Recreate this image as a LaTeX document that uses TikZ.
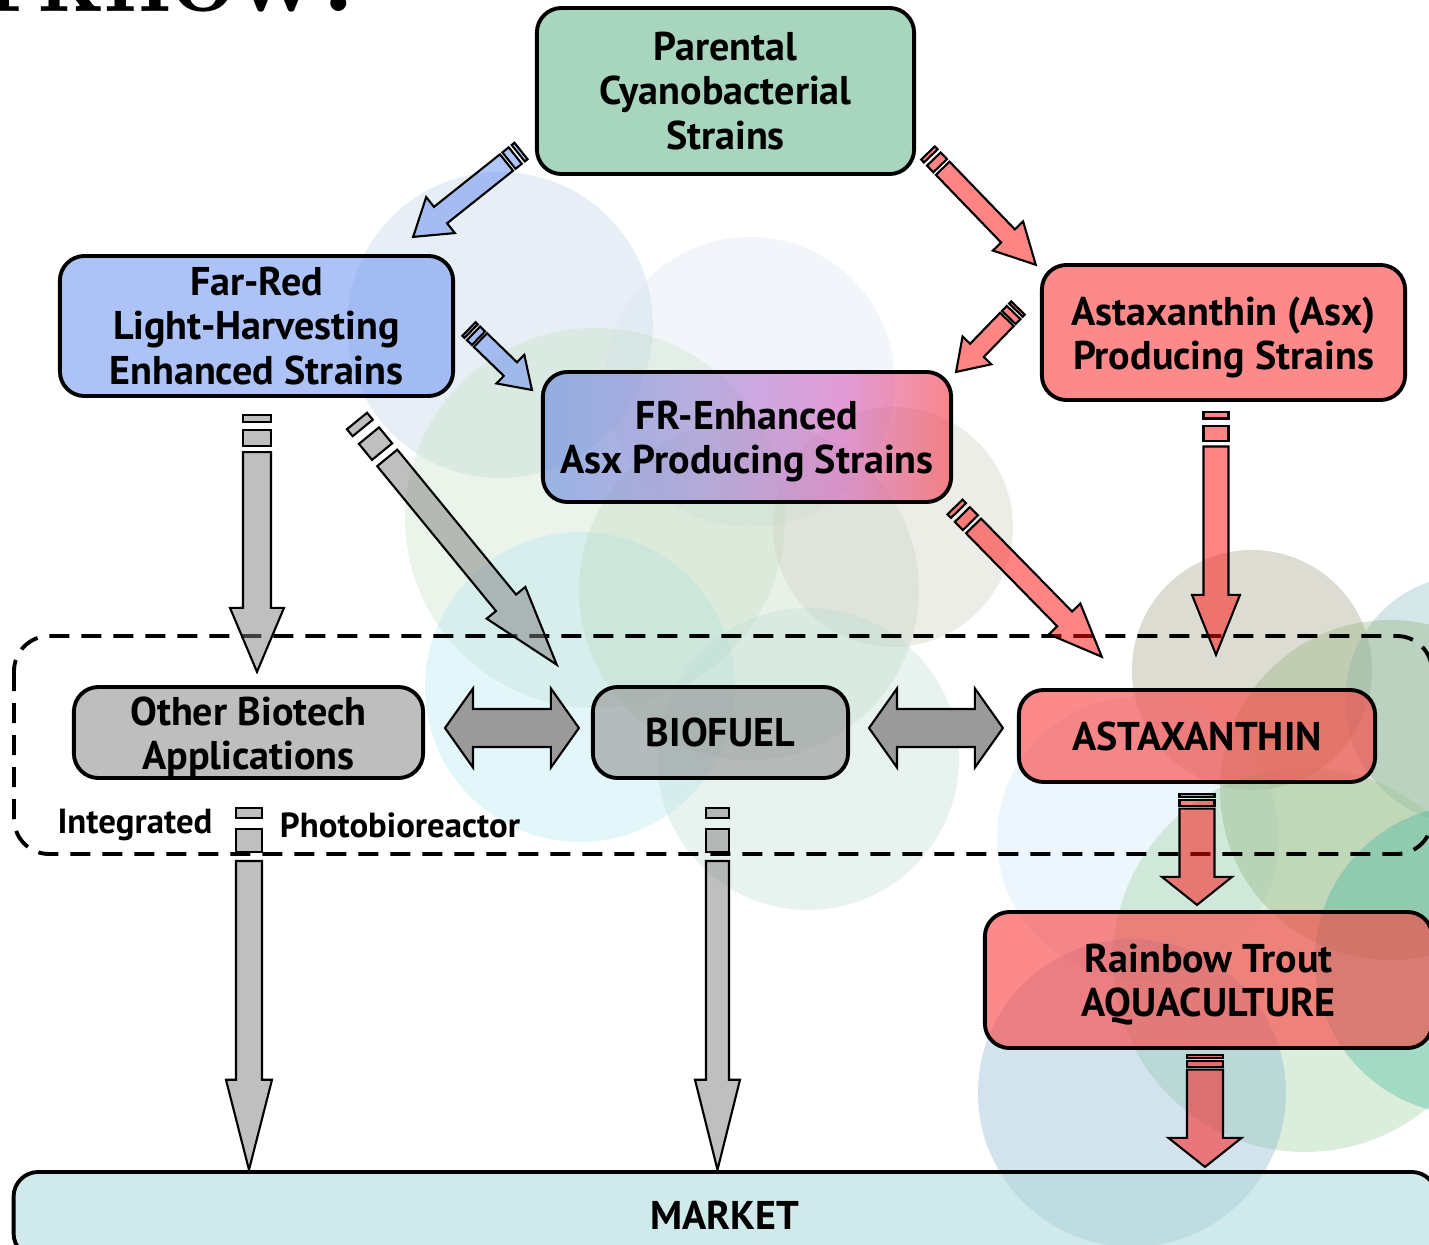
\documentclass[tikz,border=0pt]{standalone}
\usepackage{fontspec}
\setmainfont{PT Sans}
\newfontfamily\titlefont{Latin Modern Roman}
\usetikzlibrary{calc,positioning}

\definecolor{cgreen}{RGB}{110,185,147}
\definecolor{cblue}{RGB}{118,153,240}
\definecolor{cred}{RGB}{252,60,60}
\definecolor{cgray}{RGB}{147,147,147}
\definecolor{cmarket}{RGB}{177,218,220}
\definecolor{gleft}{RGB}{96,136,223}
\definecolor{glav}{RGB}{160,130,215}
\definecolor{gmid}{RGB}{217,95,190}
\definecolor{gright}{RGB}{242,55,63}
\definecolor{ablue}{RGB}{100,140,240}
\definecolor{ared}{RGB}{255,10,10}
\definecolor{agray}{RGB}{127,127,127}
\definecolor{adbl}{RGB}{154,154,154}
% background circles
\definecolor{bA}{RGB}{186,206,226}
\definecolor{bB}{RGB}{218,229,244}
\definecolor{bC}{RGB}{198,224,195}
\definecolor{bD}{RGB}{175,232,241}
\definecolor{bE}{RGB}{190,215,190}
\definecolor{bF}{RGB}{204,204,190}
\definecolor{bG}{RGB}{189,220,212}
\definecolor{bH}{RGB}{155,155,129}
\definecolor{bI}{RGB}{134,183,189}
\definecolor{bJ}{RGB}{204,229,246}
\definecolor{bK}{RGB}{152,206,152}
\definecolor{bL}{RGB}{143,174,120}
\definecolor{bM}{RGB}{60,180,160}
\definecolor{bN}{RGB}{126,175,206}

\pgfdeclarehorizontalshading{frgrad}{100bp}{color(0bp)=(gleft); color(25bp)=(gleft);
  color(45bp)=(glav); color(62bp)=(gmid); color(75bp)=(gright); color(100bp)=(gright)}

% block arrow with two stripes at the tail: tail, tip, half width, head half width, head length, stripe size, colour
\newcommand{\striparrow}[7]{%
  \path let \p1=($(#2)-(#1)$) in \pgfextra{%
    \pgfmathsetmacro\tmpang{atan2(\y1,\x1)}\global\let\arrang\tmpang
    \pgfmathsetmacro\tmplen{veclen(\x1,\y1)/0.28453}\global\let\arrlen\tmplen};
  \pgfmathsetmacro\sa{0.5*#6}%
  \pgfmathsetmacro\sb{1.05*#6}%
  \pgfmathsetmacro\sc{2.2*#6}%
  \pgfmathsetmacro\sd{2.65*#6}%
  \pgfmathsetmacro\he{\arrlen-#5}%
  \begin{scope}[shift={(#1)}, rotate=\arrang, x=0.01cm, y=0.01cm]
    \draw[blk, fill=#7] (0,-#3) rectangle (\sa,#3);
    \draw[blk, fill=#7] (\sb,-#3) rectangle (\sc,#3);
    \draw[blk, fill=#7] (\sd,-#3) -- (\he,-#3) -- (\he,-#4) -- (\arrlen,0)
      -- (\he,#4) -- (\he,#3) -- (\sd,#3) -- cycle;
  \end{scope}}

% double headed block arrow: left tip, right tip, half width, head half width, head length
\newcommand{\dblarrow}[5]{%
  \path let \p1=($(#2)-(#1)$) in \pgfextra{%
    \pgfmathsetmacro\tmplen{veclen(\x1,\y1)/0.28453}\global\let\arrlen\tmplen};
  \pgfmathsetmacro\he{\arrlen-#5}%
  \begin{scope}[shift={(#1)}, x=0.01cm, y=0.01cm]
    \draw[blk, fill=adbl, fill opacity=1] (0,0) -- (#5,-#4) -- (#5,-#3) -- (\he,-#3)
      -- (\he,-#4) -- (\arrlen,0) -- (\he,#4) -- (\he,#3) -- (#5,#3) -- (#5,#4) -- cycle;
  \end{scope}}

\newcommand{\up}{\rule{0pt}{10.8pt}}

\begin{document}
\begin{tikzpicture}[x=0.01cm, y=-0.01cm]
\tikzstyle{box}=[draw, line width=1.1pt, rounded corners=7pt, fill opacity=.6, text opacity=1,
  align=center, font=\fontsize{11.4}{12.6}\selectfont\bfseries, inner sep=0pt]
\tikzstyle{blk}=[draw=black, line width=.6pt, fill opacity=.5, line join=miter]
\tikzstyle{lbl}=[font=\fontsize{9.9}{11}\selectfont\bfseries, inner sep=0pt]

\useasboundingbox (0,0) rectangle (1429,1245);
\clip (0,0) rectangle (1429,1245);

% title, cut off at the top
\node[anchor=base east, inner sep=0pt, font=\fontsize{31.5}{31.5}\selectfont\titlefont\bfseries] (title) at (357,11) {Workflow:};

% circles behind everything
\foreach \cx/\cy/\r/\col in {500/325/153/bA, 750/382/145/bB, 595/518/190/bC, 580/687/155/bD,
  749/590/170/bE, 893/527/120/bF, 808/759/151/bG, 1252/670/120/bH, 1470/700/125/bI,
  1138/838/141/bJ, 1305/960/192/bK, 1390/790/170/bL, 1470/960/155/bM, 1132/1093/154/bN}
  \fill[\col, fill opacity=.35] (\cx,\cy) circle[radius=\r];

% integrated photobioreactor
\draw[line width=1.1pt, dash pattern=on 5.7pt off 3.4pt, rounded corners=10pt] (14,636) rectangle (1432,854);
\node[lbl] (integ) at (135,825) {Integrated};
\node[lbl] (pbr) at (400,825) {Photobioreactor};

% strains
\node[box, fill=cgreen, minimum width=3.77cm, minimum height=1.66cm] (par) at (725.5,91) {Parental\\Cyanobacterial\\Strains};
\node[box, fill=cblue, minimum width=3.93cm, minimum height=1.40cm] (far) at (256.5,326) {Far-Red\\Light-Harvesting\\Enhanced Strains};
\node[box, fill=cred, minimum width=3.63cm, minimum height=1.35cm] (asx) at (1223.5,332.5) {\up Astaxanthin (Asx)\\Producing Strains};
\node[box, shading=frgrad, minimum width=4.08cm, minimum height=1.30cm] (fre) at (747,437) {\up FR-Enhanced\\Asx Producing Strains};

% products
\node[box, fill=cgray, minimum width=3.49cm, minimum height=.91cm] (oth) at (248.5,732.5) {\up Other Biotech\\Applications};
\node[box, fill=cgray, minimum width=2.55cm, minimum height=.91cm] (bio) at (720.5,732.5) {BIOFUEL};
\node[box, fill=cred, minimum width=3.56cm, minimum height=.92cm] (ast) at (1197,736) {ASTAXANTHIN};
\node[box, fill=cred, minimum width=4.47cm, minimum height=1.36cm] (trout) at (1208.5,980) {\up Rainbow Trout\\AQUACULTURE};
\node[box, fill=cmarket, minimum width=14.22cm, minimum height=.86cm] (market) at (725,1215) {MARKET};

% arrow ends
\coordinate (a1s) at (521,151);  \coordinate (a1e) at (413,237);
\coordinate (a2s) at (928,153);  \coordinate (a2e) at (1036,265);
\coordinate (a3s) at (469,329);  \coordinate (a3e) at (532,390);
\coordinate (a4s) at (1018,308); \coordinate (a4e) at (956,372);
\coordinate (a5s) at (357,421);  \coordinate (a5e) at (557,665);
\coordinate (a6s) at (955,507);  \coordinate (a6e) at (1102,657);
\coordinate (a7s) at (1216,412); \coordinate (a7e) at (1216,655);
\coordinate (a8s) at (257,415);  \coordinate (a8e) at (257,672);
\coordinate (a9s) at (249,808);  \coordinate (a9e) at (249,1170);
\coordinate (a10s) at (717.5,808); \coordinate (a10e) at (717.5,1170);
\coordinate (a11s) at (1197,794); \coordinate (a11e) at (1197,905);
\coordinate (a12s) at (1205,1055); \coordinate (a12e) at (1205,1167);
\coordinate (d1s) at (445,728);  \coordinate (d1e) at (579,728);
\coordinate (d2s) at (869,728);  \coordinate (d2e) at (1003,728);

\striparrow{a1s}{a1e}{10.5}{23}{35}{7}{ablue}
\striparrow{a2s}{a2e}{9.5}{21}{40}{8}{ared}
\striparrow{a3s}{a3e}{9.5}{20}{30}{6}{ablue}
\striparrow{a4s}{a4e}{9.5}{20}{30}{6}{ared}
\striparrow{a5s}{a5e}{13}{25}{80}{18}{agray}
\striparrow{a6s}{a6e}{10.5}{22}{53}{10}{ared}
\striparrow{a7s}{a7e}{12.5}{24}{60}{13}{ared}
\striparrow{a8s}{a8e}{14}{27}{64}{14}{agray}
\striparrow{a9s}{a9e}{13}{23}{90}{20}{agray}
\striparrow{a10s}{a10e}{11.5}{22.5}{90}{20}{agray}
\striparrow{a11s}{a11e}{17.5}{35}{28}{5.5}{ared}
\striparrow{a12s}{a12e}{18}{36.5}{29}{5.5}{ared}
\dblarrow{d1s}{d1e}{19}{39.5}{28}
\dblarrow{d2s}{d2e}{19}{39.5}{28}
\end{tikzpicture}
\end{document}
